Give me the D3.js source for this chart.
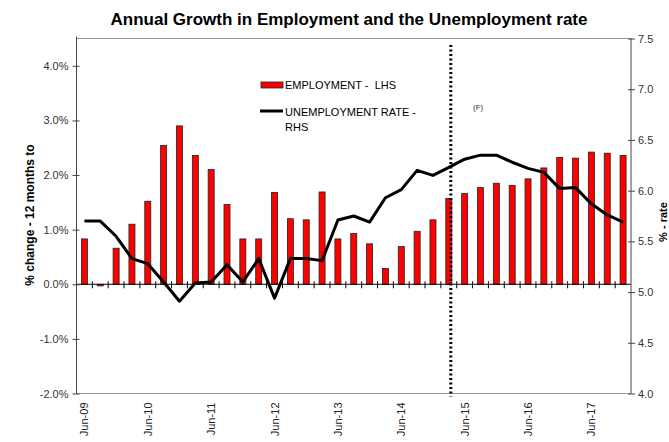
<!DOCTYPE html>
<html><head><meta charset="utf-8">
<script src="https://cdn.jsdelivr.net/npm/d3@7"></script>
<style>body{margin:0;background:#fff}svg{display:block}text{font-family:"Liberation Sans",Arial,sans-serif}</style>
</head><body><svg id="c" width="669" height="442"></svg>
<script>
const categories = ["Jun-09","Sep-09","Dec-09","Mar-10","Jun-10","Sep-10","Dec-10","Mar-11","Jun-11","Sep-11","Dec-11","Mar-12","Jun-12","Sep-12","Dec-12","Mar-13","Jun-13","Sep-13","Dec-13","Mar-14","Jun-14","Sep-14","Dec-14","Mar-15","Jun-15","Sep-15","Dec-15","Mar-16","Jun-16","Sep-16","Dec-16","Mar-17","Jun-17","Sep-17","Dec-17"];
const employment = [0.83,-0.03,0.66,1.10,1.52,2.54,2.90,2.36,2.10,1.46,0.83,0.83,1.68,1.20,1.18,1.69,0.83,0.93,0.74,0.29,0.69,0.97,1.18,1.57,1.66,1.77,1.85,1.81,1.93,2.13,2.32,2.31,2.42,2.40,2.36];
const unemployment = [5.70,5.70,5.55,5.33,5.28,5.10,4.91,5.09,5.10,5.27,5.10,5.33,4.94,5.33,5.33,5.31,5.71,5.75,5.69,5.93,6.01,6.20,6.15,6.23,6.31,6.35,6.35,6.28,6.22,6.18,6.02,6.03,5.87,5.76,5.69];
const leftTicks = [-2,-1,0,1,2,3,4];
const rightTicks = [4.0,4.5,5.0,5.5,6.0,6.5,7.0,7.5];
const xLabels = ["Jun-09","Jun-10","Jun-11","Jun-12","Jun-13","Jun-14","Jun-15","Jun-16","Jun-17"];
const forecastStart = "Mar-15";

const svg = d3.select("#c");
const L = 76.5, R = 631, T = 38.5, B = 393.5;
const x = d3.scaleBand().domain(categories).range([L, R]).paddingInner(0.62).paddingOuter(0.31);
const yL = d3.scaleLinear().domain([-2, 4.5]).range([B, T]);
const yR = d3.scaleLinear().domain([4, 7.5]).range([B, T]);

// plot border top/bottom
svg.append("line").attr("x1",L).attr("x2",R).attr("y1",T).attr("y2",T).attr("stroke","#999").attr("stroke-width",1);
svg.append("line").attr("x1",L).attr("x2",R).attr("y1",B).attr("y2",B).attr("stroke","#999").attr("stroke-width",1);

// bars
svg.append("g").selectAll("rect").data(categories).join("rect")
  .attr("x", d => x(d))
  .attr("width", x.bandwidth())
  .attr("y", (d,i) => Math.min(yL(employment[i]), yL(0)))
  .attr("height", (d,i) => Math.abs(yL(employment[i]) - yL(0)))
  .attr("fill", "#ff0000").attr("stroke", "#222").attr("stroke-width", 0.8);

// x axis at zero
const y0 = yL(0);
svg.append("line").attr("x1",L).attr("x2",R).attr("y1",y0).attr("y2",y0).attr("stroke","#000").attr("stroke-width",1);
const step = x.step();
const bounds = d3.range(1, categories.length).map(i => x(categories[i]) - (step - x.bandwidth())/2);
svg.append("g").selectAll("line").data(bounds).join("line")
  .attr("x1", d=>d).attr("x2", d=>d).attr("y1", y0-3).attr("y2", y0+4).attr("stroke","#000").attr("stroke-width",1);

// unemployment line
const line = d3.line().x((d,i) => x(categories[i]) + x.bandwidth()/2).y(d => yR(d));
svg.append("path").datum(unemployment).attr("d", line).attr("fill","none").attr("stroke","#000").attr("stroke-width",3).attr("stroke-linejoin","round");

// forecast dotted line
const fx = x(forecastStart) + x.bandwidth()/2 + 2;
svg.append("line").attr("x1",fx).attr("x2",fx).attr("y1",45).attr("y2",B+3).attr("stroke","#000").attr("stroke-width",3).attr("stroke-dasharray","2,2.5");

// left axis
const gl = svg.append("g").attr("transform",`translate(${L},0)`)
  .call(d3.axisLeft(yL).tickValues(leftTicks).tickSize(4).tickFormat(d => d.toFixed(1) + "%"));
gl.select(".domain").attr("stroke","#444").attr("d",`M0,${T-2}V${B}`);
gl.selectAll(".tick line").attr("x2",-4).attr("x1",3).attr("stroke","#444");
gl.selectAll(".tick text").attr("x",-8).attr("font-size","11px").attr("fill","#333").attr("font-family","Liberation Sans, Arial, sans-serif");

// right axis
const gr = svg.append("g").attr("transform",`translate(${R},0)`)
  .call(d3.axisRight(yR).tickValues(rightTicks).tickSize(4).tickFormat(d3.format(".1f")));
gr.select(".domain").attr("stroke","#444").attr("d",`M0,${T}V${B}`);
gr.selectAll(".tick line").attr("x1",-3).attr("x2",4).attr("stroke","#444");
gr.selectAll(".tick text").attr("x",7).attr("font-size","11px").attr("fill","#333").attr("font-family","Liberation Sans, Arial, sans-serif");

// x labels
svg.append("g").selectAll("text").data(xLabels).join("text")
  .attr("transform", d => `translate(${x(d)+x.bandwidth()/2+4},${B+9}) rotate(-90)`)
  .attr("text-anchor","end").attr("font-size","11px").attr("fill","#222").text(d=>d);

// title
svg.append("text").attr("x",349).attr("y",25).attr("text-anchor","middle").attr("font-size","17px").attr("font-weight","bold").text("Annual Growth in Employment and the Unemployment rate");

// axis titles
svg.append("text").attr("transform","translate(34,215) rotate(-90)").attr("text-anchor","middle").attr("font-size","12px").attr("font-weight","bold").text("% change - 12 months to");
svg.append("text").attr("transform","translate(667,222) rotate(-90)").attr("text-anchor","middle").attr("font-size","11px").attr("font-weight","bold").text("% - rate");

// legend
svg.append("rect").attr("x",261).attr("y",82).attr("width",22).attr("height",6).attr("fill","#ff0000").attr("stroke","#222").attr("stroke-width",0.8);
svg.append("text").attr("x",285).attr("y",89).attr("font-size","11px").text("EMPLOYMENT -  LHS").attr("xml:space","preserve").style("white-space","pre");
svg.append("line").attr("x1",260).attr("x2",283).attr("y1",111).attr("y2",111).attr("stroke","#000").attr("stroke-width",3);
svg.append("text").attr("x",285).attr("y",116).attr("font-size","11px").text("UNEMPLOYMENT RATE -");
svg.append("text").attr("x",285).attr("y",131).attr("font-size","11px").text("RHS");
svg.append("text").attr("x",473).attr("y",110).attr("font-size","8px").attr("fill","#333").text("(F)");
</script></body></html>
